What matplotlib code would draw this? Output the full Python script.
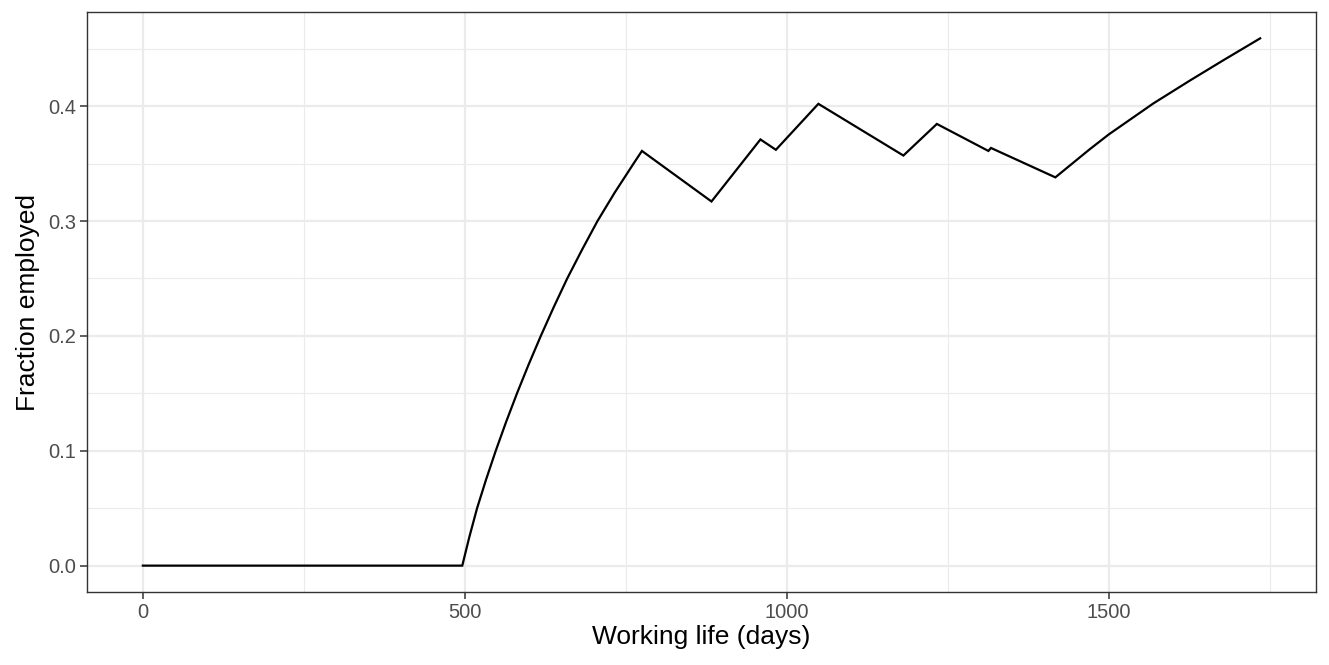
import matplotlib
matplotlib.use("Agg")
import matplotlib.pyplot as plt
from matplotlib.ticker import MultipleLocator

# Data
days = [0, 496, 507, 519, 533, 548, 564, 581, 599, 618, 638, 659, 682, 706,
        733, 762, 775,
        883, 959, 983, 1049, 1181, 1233, 1313, 1317, 1417,
        1470, 1500, 1569, 1626, 1678, 1735]
frac = [0.0, 0.0, 0.025, 0.05, 0.075, 0.10, 0.125, 0.15, 0.175, 0.20, 0.225,
        0.25, 0.275, 0.30, 0.325, 0.35, 0.361,
        0.317, 0.371, 0.362, 0.402, 0.357, 0.3845, 0.361, 0.3636, 0.338,
        0.3623, 0.3754, 0.4023, 0.4223, 0.440, 0.459]

x_ticks = [0, 500, 1000, 1500]
y_ticks = [0.0, 0.1, 0.2, 0.3, 0.4]
x_label = "Working life (days)"
y_label = "Fraction employed"

plt.rcParams['font.family'] = ['Liberation Sans', 'DejaVu Sans']

fig = plt.figure(figsize=(13.29, 6.65), dpi=100)
ax = fig.add_axes([87/1329, 1-592/665, (1316-87)/1329, (592-12)/665])

ax.plot(days, frac, color='black', lw=1.6, solid_joinstyle='miter', zorder=3)

xr = max(days) - min(days)
ax.set_xlim(min(days) - 0.05*xr, max(days) + 0.05*xr)
yr = max(frac) - min(frac)
ax.set_ylim(min(frac) - 0.05*yr, max(frac) + 0.05*yr)

ax.set_xticks(x_ticks)
ax.set_xticklabels([str(t) for t in x_ticks])
ax.set_yticks(y_ticks)
ax.set_yticklabels([f"{t:.1f}" for t in y_ticks])
ax.xaxis.set_minor_locator(MultipleLocator(250))
ax.yaxis.set_minor_locator(MultipleLocator(0.05))

ax.grid(which='major', color='#EBEBEB', lw=1.6, zorder=0)
ax.grid(which='minor', color='#EBEBEB', lw=0.8, zorder=0)
ax.set_axisbelow(True)

for s in ax.spines.values():
    s.set_color('#333333')
    s.set_linewidth(1.0)

ax.tick_params(which='major', length=5, width=1.1, color='#333333',
               labelcolor='#4D4D4D', labelsize=14.5, pad=3)
ax.tick_params(which='minor', length=0)

ax.set_xlabel(x_label, fontsize=19, color='black', labelpad=2)
ax.set_ylabel(y_label, fontsize=19, color='black', labelpad=6)

fig.savefig("out.png", dpi=100, facecolor='white')
